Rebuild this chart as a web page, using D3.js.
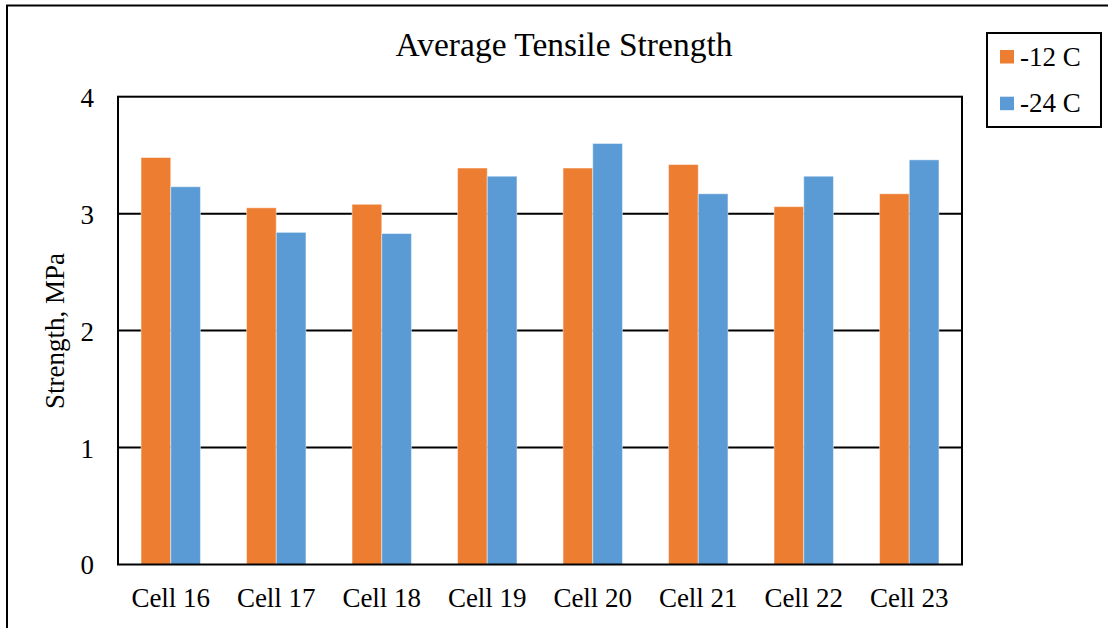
<!DOCTYPE html>
<html>
<head>
<meta charset="utf-8">
<script src="https://cdn.jsdelivr.net/npm/d3@7"></script>
<style>
  html, body { margin: 0; padding: 0; background: #fff; }
  svg { display: block; }
  text { font-family: "Liberation Serif", "Times New Roman", serif; fill: #000; }
</style>
</head>
<body>
<svg id="chart" width="1111" height="628"></svg>
<script>
const categories = ["Cell 16", "Cell 17", "Cell 18", "Cell 19", "Cell 20", "Cell 21", "Cell 22", "Cell 23"];
const seriesNames = ["-12 C", "-24 C"];
const valuesMinus12 = [3.48, 3.05, 3.08, 3.39, 3.39, 3.42, 3.06, 3.17];
const valuesMinus24 = [3.23, 2.84, 2.83, 3.32, 3.60, 3.17, 3.32, 3.46];
const yTicks = [0, 1, 2, 3, 4];
const colors = ["#ED7D31", "#5B9BD5"];
const chartTitle = "Average Tensile Strength";
const yTitle = "Strength, MPa";

const svg = d3.select("#chart");
const plot = { left: 118, right: 962, top: 96.7, bottom: 564.5 };

// outer chart frame (left and top edges visible)
svg.append("line").attr("x1", 7).attr("x2", 7).attr("y1", 5).attr("y2", 640)
  .attr("stroke", "#000").attr("stroke-width", 2);
svg.append("line").attr("x1", 6).attr("x2", 1108).attr("y1", 5.5).attr("y2", 5.5)
  .attr("stroke", "#000").attr("stroke-width", 2);

const x0 = d3.scaleBand().domain(categories).range([plot.left, plot.right])
  .paddingInner(0.437).paddingOuter(0.2185);
const x1 = d3.scaleBand().domain(seriesNames).range([0, x0.bandwidth()]).padding(0);
const y = d3.scaleLinear().domain([0, 4]).range([plot.bottom, plot.top]);

// gridlines
svg.append("g").selectAll("line").data(yTicks.filter(t => t > 0 && t < 4)).join("line")
  .attr("x1", plot.left).attr("x2", plot.right)
  .attr("y1", d => y(d)).attr("y2", d => y(d))
  .attr("stroke", "#000").attr("stroke-width", 2);

// bars
const data = categories.map((c, i) => ({ cat: c, vals: [valuesMinus12[i], valuesMinus24[i]] }));
const groups = svg.append("g").selectAll("g").data(data).join("g")
  .attr("transform", d => `translate(${x0(d.cat)},0)`);
groups.selectAll("rect").data(d => d.vals.map((v, j) => ({ s: seriesNames[j], v, j }))).join("rect")
  .attr("x", d => x1(d.s))
  .attr("width", x1.bandwidth())
  .attr("y", d => y(d.v))
  .attr("height", d => y(0) - y(d.v))
  .attr("fill", d => colors[d.j])
  .attr("stroke", "#ffffff").attr("stroke-opacity", 0.45).attr("stroke-width", 1);

// plot frame
svg.append("rect").attr("x", plot.left).attr("y", plot.top)
  .attr("width", plot.right - plot.left).attr("height", plot.bottom - plot.top)
  .attr("fill", "none").attr("stroke", "#000").attr("stroke-width", 2);

// y axis labels
const yAxis = d3.axisLeft(y).tickValues(yTicks).tickSize(0).tickPadding(24).tickFormat(d3.format("d"));
const yg = svg.append("g").attr("transform", `translate(${plot.left},0)`).call(yAxis);
yg.select(".domain").remove();
yg.selectAll("text").attr("font-size", 27).attr("font-family", "Liberation Serif").attr("fill", "#000").attr("dy", "0.35em");

// x axis labels
const xAxis = d3.axisBottom(x0).tickSize(0).tickPadding(0);
const xg = svg.append("g").attr("transform", `translate(0,${plot.bottom})`).call(xAxis);
xg.select(".domain").remove();
xg.selectAll("text").attr("font-size", 27).attr("font-family", "Liberation Serif").attr("fill", "#000")
  .attr("y", 42.5).attr("dy", 0);

// title
svg.append("text").attr("x", 564).attr("y", 56).attr("text-anchor", "middle")
  .attr("font-size", 33.5).text(chartTitle);

// y title
svg.append("text").attr("transform", "translate(64.3,331) rotate(-90)")
  .attr("text-anchor", "middle").attr("font-size", 27).text(yTitle);

// legend
const lg = svg.append("g");
lg.append("rect").attr("x", 987).attr("y", 33).attr("width", 114).attr("height", 94)
  .attr("fill", "#fff").attr("stroke", "#000").attr("stroke-width", 2);
const items = lg.selectAll("g").data(seriesNames).join("g")
  .attr("transform", (d, i) => `translate(1000,${50 + i * 46.7})`);
items.append("rect").attr("width", 14).attr("height", 13.5).attr("fill", (d, i) => colors[i]);
items.append("text").attr("x", 20).attr("y", 15.5).attr("font-size", 27).text(d => d);
</script>
</body>
</html>
